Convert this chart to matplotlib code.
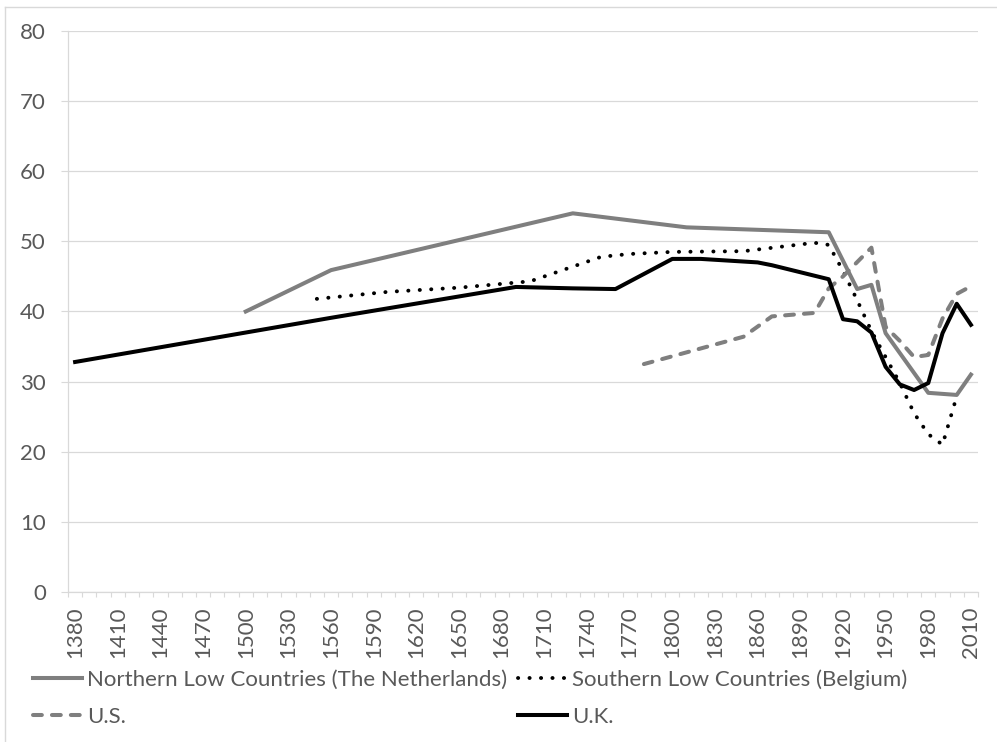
import matplotlib

matplotlib.use("Agg")
import matplotlib.pyplot as plt
from matplotlib.lines import Line2D

# 系列データ
nl_years = [1500, 1560, 1730, 1810, 1910, 1930, 1940, 1950, 1980, 2000, 2010]
nl_vals = [40.0, 45.9, 54.0, 52.0, 51.3, 43.2, 43.8, 36.9, 28.4, 28.1, 31.0]

be_years = [1550, 1600, 1650, 1700, 1750, 1770, 1800, 1850, 1900, 1910, 1920,
            1930, 1940, 1950, 1960, 1970, 1980, 1990, 2000]
be_vals = [41.8, 42.8, 43.4, 44.3, 47.8, 48.2, 48.5, 48.6, 49.8, 49.5, 45.8,
           41.6, 37.2, 33.5, 29.8, 25.5, 22.5, 21.0, 27.9]

us_years = [1780, 1850, 1870, 1900, 1910, 1920, 1940, 1950, 1960, 1970, 1980,
            1990, 2000, 2010]
us_vals = [32.5, 36.4, 39.3, 39.8, 43.3, 45.0, 49.1, 37.8, 35.8, 33.5, 33.8,
           39.0, 42.5, 43.6]

uk_years = [1380, 1560, 1690, 1730, 1760, 1800, 1820, 1860, 1870, 1910, 1920,
            1930, 1940, 1950, 1960, 1970, 1980, 1990, 2000, 2010]
uk_vals = [32.8, 39.1, 43.5, 43.3, 43.2, 47.5, 47.5, 47.0, 46.6, 44.6, 38.9,
           38.6, 37.0, 32.1, 29.6, 28.8, 29.8, 36.9, 41.1, 38.1]

labels = {
    "nl": "Northern Low Countries (The Netherlands)",
    "be": "Southern Low Countries (Belgium)",
    "us": "U.S.",
    "uk": "U.K.",
}

GRAY = "#7f7f7f"
TEXT = "#595959"
GRID = "#d9d9d9"

plt.rcParams["font.family"] = ["Lato", "DejaVu Sans"]

fig = plt.figure(figsize=(9.97, 7.42), dpi=100)
ax = fig.add_axes([0.0682, 0.2022, 0.9128, 0.7560])

dot_style = (0, (0.05, 2.9))
dash_style = (0, (2.2, 2.5))

ax.plot(nl_years, nl_vals, color=GRAY, lw=2.9, solid_joinstyle="round",
        label=labels["nl"])
ax.plot(be_years, be_vals, color="black", lw=2.8, linestyle=dot_style,
        dash_capstyle="round", label=labels["be"])
ax.plot(us_years, us_vals, color=GRAY, lw=2.9, linestyle=dash_style,
        dash_capstyle="round", label=labels["us"])
ax.plot(uk_years, uk_vals, color="black", lw=2.9, solid_joinstyle="round",
        label=labels["uk"])

# 軸の設定（Excelのカテゴリ軸風）
ax.set_xlim(1375, 2015)
ax.set_ylim(0, 80)
ax.set_yticks(range(0, 81, 10))
ax.set_xticks(range(1380, 2011, 30))
ax.set_xticks(range(1375, 2016, 10), minor=True)
ax.tick_params(axis="x", which="major", length=0, pad=10.5, rotation=90,
               labelsize=16, labelcolor=TEXT)
ax.tick_params(axis="x", which="minor", length=3.6, width=0.8, color=GRID)
ax.tick_params(axis="y", length=5, width=0.8, color=GRID, pad=11,
               labelsize=16, labelcolor=TEXT)
ax.grid(axis="y", color=GRID, lw=0.9)
ax.set_axisbelow(True)
for side in ("top", "right"):
    ax.spines[side].set_visible(False)
for side in ("left", "bottom"):
    ax.spines[side].set_color(GRID)
    ax.spines[side].set_linewidth(0.9)

# 凡例（2列、列優先で並べる）
h, l = ax.get_legend_handles_labels()
order = [0, 2, 1, 3]
leg = fig.legend([h[i] for i in order], [l[i] for i in order],
                 loc="upper left", bbox_to_anchor=(0.033, 0.098), ncol=2,
                 frameon=False, fontsize=16, labelcolor=TEXT,
                 handlelength=2.2, handletextpad=0.22, columnspacing=0.5,
                 labelspacing=0.78, borderaxespad=0, borderpad=0)

# グラフ領域の枠線（左と上のみ見える）
fig.add_artist(Line2D([5 / 997, 5 / 997], [0, 1 - 7 / 742], color=GRID,
                      lw=1.0, transform=fig.transFigure))
fig.add_artist(Line2D([5 / 997, 1], [1 - 7 / 742, 1 - 7 / 742], color=GRID,
                      lw=1.0, transform=fig.transFigure))

fig.savefig("out.png", dpi=100)
plt.close(fig)
